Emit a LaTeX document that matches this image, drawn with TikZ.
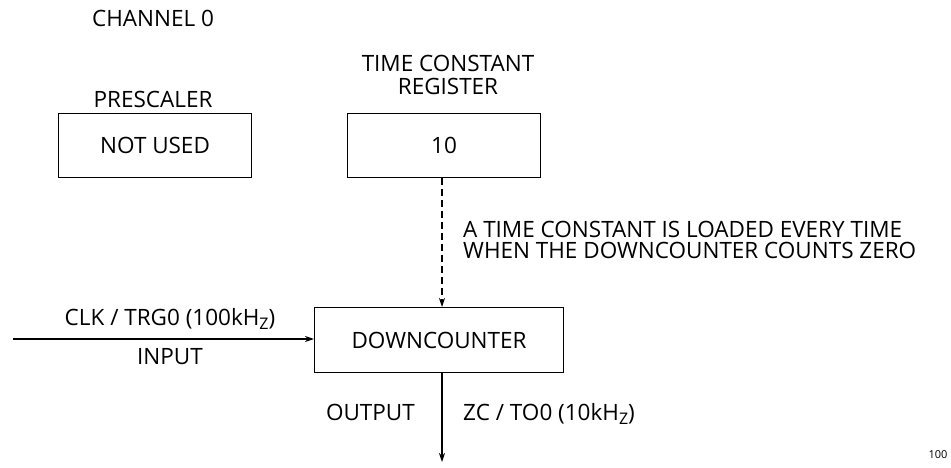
\documentclass[tikz,border=0pt]{standalone}
\usepackage{fontspec}
\setmainfont{Open Sans}
\usetikzlibrary{arrows.meta}
\newcommand{\kHz}{kH\raisebox{-0.35ex}{\fontsize{16}{18}\selectfont Z}}
\begin{document}
\begin{tikzpicture}[x=1pt,y=-1pt,
  txt/.style={inner sep=0pt,font=\fontsize{22.5}{21}\selectfont},
  box/.style={draw,line width=1.1pt,minimum width=193pt,minimum height=64pt,inner sep=0pt,font=\fontsize{22.5}{21}\selectfont},
  arr/.style={line width=1.1pt,-{Stealth[length=9pt,width=6pt]}}]
\useasboundingbox (0,0) rectangle (951,468);
\node[txt] (ch) at (153,18) {CHANNEL 0};
\node[txt] (pre) at (153,99) {PRESCALER};
\node[box,anchor=north west] (nu) at (58,113) {};
\node[txt] at (nu.center) {NOT USED};
\node[txt,align=center] (tcr) at (448,75) {TIME CONSTANT\\[2pt]REGISTER};
\node[box,anchor=north west] (tc) at (347,113) {};
\node[txt] (ten) at (tc.center) {10};
\node[box,anchor=north west,minimum width=249pt,minimum height=65pt] (dc) at (314,307) {};
\node[txt] at (dc.center) {DOWNCOUNTER};
\coordinate (tcb) at (442,178);
\coordinate (dct) at (442,307);
\draw[arr,dashed,dash pattern=on 7pt off 4pt] (tcb) -- (dct);
\node[txt,anchor=west,align=left] (note) at (463,240) {A TIME CONSTANT IS LOADED EVERY TIME\\WHEN THE DOWNCOUNTER COUNTS ZERO};
\coordinate (inp) at (13,339);
\draw[arr] (inp) -- (dc.west |- inp);
\node[txt] (clk) at (170,319) {CLK / TRG0 (100\kHz)};
\node[txt] (input) at (170,357) {INPUT};
\coordinate (dcb) at (442,372);
\coordinate (outp) at (442,462);
\draw[arr] (dcb) -- (outp);
\node[txt,anchor=east] (out) at (415,412) {OUTPUT};
\node[txt,anchor=west] (zc) at (463,414) {ZC / TO0 (10\kHz)};
\node[inner sep=0pt,font=\fontsize{11}{12}\selectfont] (num) at (938,455) {100};
\end{tikzpicture}
\end{document}
